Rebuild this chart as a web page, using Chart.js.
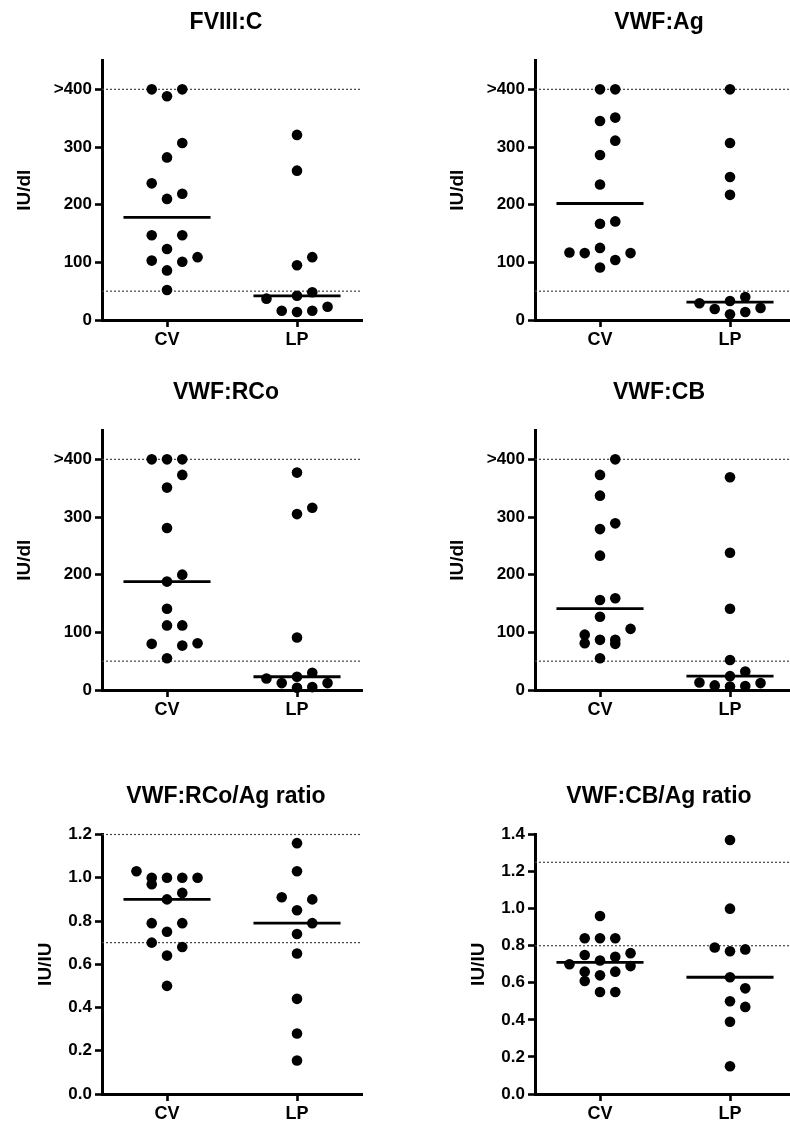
<!DOCTYPE html>
<html>
<head>
<meta charset="utf-8">
<script src="https://cdn.jsdelivr.net/npm/chart.js@4.4.1/dist/chart.umd.min.js"></script>
<style>
  html, body { margin: 0; padding: 0; background: #fff; overflow: hidden; width: 790px; height: 1121px; }
  .panel { position: absolute; width: 370px; height: 350px; }
</style>
</head>
<body>
<div class="panel" style="left:0;top:0"><canvas id="fviii" width="370" height="350"></canvas></div>
<div class="panel" style="left:433px;top:0"><canvas id="vwfag" width="370" height="350"></canvas></div>
<div class="panel" style="left:0;top:370px"><canvas id="vwfrco" width="370" height="350"></canvas></div>
<div class="panel" style="left:433px;top:370px"><canvas id="vwfcb" width="370" height="350"></canvas></div>
<div class="panel" style="left:0;top:774px"><canvas id="rcoratio" width="370" height="350"></canvas></div>
<div class="panel" style="left:433px;top:774px"><canvas id="cbratio" width="370" height="350"></canvas></div>
<script>
const categories = ['CV', 'LP'];

const levelTicks = [0, 100, 200, 300, 400];
const levelTickLabels = ['0', '100', '200', '300', '>400'];
const levelRefs = [50, 400];

const rcoRatioTicks = [0, 0.2, 0.4, 0.6, 0.8, 1.0, 1.2];
const rcoRatioTickLabels = ['0.0', '0.2', '0.4', '0.6', '0.8', '1.0', '1.2'];
const rcoRatioRefs = [0.7, 1.2];

const cbRatioTicks = [0, 0.2, 0.4, 0.6, 0.8, 1.0, 1.2, 1.4];
const cbRatioTickLabels = ['0.0', '0.2', '0.4', '0.6', '0.8', '1.0', '1.2', '1.4'];
const cbRatioRefs = [0.8, 1.25];

// values (>400 plotted at 400)
const fviiiCV = [400, 400, 388, 307, 282, 237, 219, 210, 147, 147, 123, 109, 103, 101, 86, 52];
const fviiiLP = [321, 259, 109, 95, 48, 42, 37, 23, 16, 16, 14];
const fviiiMedians = [178, 42];

const vwfAgCV = [400, 400, 351, 345, 311, 286, 235, 171, 167, 125, 117, 116, 116, 104, 91];
const vwfAgLP = [400, 307, 248, 217, 40, 33, 29, 21, 19, 14, 10];
const vwfAgMedians = [202, 31];

const vwfRCoCV = [400, 400, 400, 373, 351, 281, 200, 188, 141, 112, 112, 81, 80, 77, 55];
const vwfRCoLP = [377, 316, 305, 91, 30, 23, 20, 12, 12, 5, 4];
const vwfRCoMedians = [188, 23];

const vwfCBCV = [400, 373, 337, 289, 279, 233, 159, 156, 127, 106, 96, 87, 87, 81, 80, 55];
const vwfCBLP = [369, 238, 141, 52, 32, 24, 13, 12, 8, 7, 6];
const vwfCBMedians = [141, 24];

const rcoRatioCV = [1.03, 1.00, 1.00, 1.00, 1.00, 0.97, 0.93, 0.90, 0.79, 0.79, 0.75, 0.70, 0.68, 0.64, 0.50];
const rcoRatioLP = [1.16, 1.03, 0.91, 0.90, 0.85, 0.79, 0.74, 0.65, 0.44, 0.28, 0.155];
const rcoRatioMedians = [0.90, 0.79];

const cbRatioCV = [0.96, 0.84, 0.84, 0.84, 0.76, 0.75, 0.74, 0.72, 0.70, 0.69, 0.66, 0.66, 0.64, 0.61, 0.55, 0.55];
const cbRatioLP = [1.37, 1.00, 0.79, 0.78, 0.77, 0.63, 0.57, 0.50, 0.47, 0.39, 0.15];
const cbRatioMedians = [0.71, 0.63];

const FONT = '"Liberation Sans", Arial, sans-serif';
const PLOT_H = 259;   // plot height in px, used to spread the dots
const ROW_PX = 16;    // dots closer than this go in one row
const SLOT = 0.235;   // horizontal step between dots (x units)
const SLOT_ORDER = [0, 1, -1, 2, -2];

// simple prism-like column scatter: group close values in rows, spread each row sideways
function swarm(values, center, yMax) {
  const rowSpan = ROW_PX * yMax / PLOT_H;
  const sorted = [...values].sort((a, b) => a - b);
  const pts = [];
  let row = [];
  const flush = () => {
    row.forEach((v, i) => pts.push({ x: center + SLOT_ORDER[i] * SLOT, y: v }));
    row = [];
  };
  sorted.forEach(v => {
    if (row.length && (v - row[0] >= rowSpan || row.length === SLOT_ORDER.length)) flush();
    row.push(v);
  });
  flush();
  return pts;
}

const panelTitle = {
  id: 'panelTitle',
  afterDraw(chart, args, opts) {
    const ctx = chart.ctx;
    ctx.save();
    ctx.font = 'bold 23px ' + FONT;
    ctx.fillStyle = '#000';
    ctx.textAlign = 'center';
    ctx.textBaseline = 'alphabetic';
    ctx.fillText(opts.text, 226, 29);
    ctx.restore();
  }
};

function createPanel(p) {
  const datasets = [];
  p.refs.forEach(r => {
    datasets.push({
      data: [{ x: 0, y: r }, { x: 4, y: r }],
      showLine: true, borderColor: '#444', borderWidth: 1.2, borderDash: [2, 2],
      pointRadius: 0, order: 3, clip: false
    });
  });
  categories.forEach((c, i) => {
    const cx = 2 * i + 1;
    datasets.push({
      data: [{ x: cx - 0.67, y: p.medians[i] }, { x: cx + 0.67, y: p.medians[i] }],
      showLine: true, borderColor: '#000', borderWidth: 2.8,
      pointRadius: 0, order: 2, clip: false
    });
    datasets.push({
      label: c,
      data: swarm(p.groups[i], cx, p.yMax),
      pointRadius: 5.3, pointBackgroundColor: '#000', pointBorderWidth: 0,
      order: 1, clip: false
    });
  });

  new Chart(document.getElementById(p.id), {
    type: 'scatter',
    data: { datasets },
    plugins: [panelTitle],
    options: {
      responsive: false,
      animation: false,
      layout: { padding: { top: 60.5, right: 8, left: 0, bottom: 0 } },
      plugins: {
        legend: { display: false },
        tooltip: { enabled: false },
        panelTitle: { text: p.title }
      },
      scales: {
        x: {
          type: 'linear', min: 0, max: 4,
          afterBuildTicks: s => { s.ticks = categories.map((c, i) => ({ value: 2 * i + 1 })); },
          afterFit: s => { s.height = 30; },
          ticks: {
            callback: (v, i) => categories[i],
            color: '#000', padding: 2, autoSkip: false, maxRotation: 0,
            font: { family: FONT, size: 18, weight: 'bold' }
          },
          grid: { drawOnChartArea: false, tickLength: 7, tickWidth: 2.6, tickColor: '#000', color: '#000' },
          border: { color: '#000', width: 3 }
        },
        y: {
          min: 0, max: p.yMax,
          afterBuildTicks: s => { s.ticks = p.ticks.map(v => ({ value: v })); },
          afterFit: s => { s.width = 102; },
          ticks: {
            callback: (v, i) => p.tickLabels[i],
            color: '#000', padding: 3, autoSkip: false,
            font: { family: FONT, size: 17, weight: 'bold' }
          },
          title: {
            display: true, text: p.unit, color: '#000',
            font: { family: FONT, size: 19, weight: 'bold' },
            padding: { top: p.unitPad, bottom: 0 }
          },
          grid: { drawOnChartArea: false, tickLength: 7, tickWidth: 2.6, tickColor: '#000', color: '#000' },
          border: { color: '#000', width: 3 }
        }
      }
    }
  });
}

const panels = [
  { id: 'fviii', title: 'FVIII:C', unit: 'IU/dl', yMax: 450, ticks: levelTicks, tickLabels: levelTickLabels,
    refs: levelRefs, groups: [fviiiCV, fviiiLP], medians: fviiiMedians, unitPad: 13 },
  { id: 'vwfag', title: 'VWF:Ag', unit: 'IU/dl', yMax: 450, ticks: levelTicks, tickLabels: levelTickLabels,
    refs: levelRefs, groups: [vwfAgCV, vwfAgLP], medians: vwfAgMedians, unitPad: 13 },
  { id: 'vwfrco', title: 'VWF:RCo', unit: 'IU/dl', yMax: 450, ticks: levelTicks, tickLabels: levelTickLabels,
    refs: levelRefs, groups: [vwfRCoCV, vwfRCoLP], medians: vwfRCoMedians, unitPad: 13 },
  { id: 'vwfcb', title: 'VWF:CB', unit: 'IU/dl', yMax: 450, ticks: levelTicks, tickLabels: levelTickLabels,
    refs: levelRefs, groups: [vwfCBCV, vwfCBLP], medians: vwfCBMedians, unitPad: 13 },
  { id: 'rcoratio', title: 'VWF:RCo/Ag ratio', unit: 'IU/IU', yMax: 1.2, ticks: rcoRatioTicks, tickLabels: rcoRatioTickLabels,
    refs: rcoRatioRefs, groups: [rcoRatioCV, rcoRatioLP], medians: rcoRatioMedians, unitPad: 34 },
  { id: 'cbratio', title: 'VWF:CB/Ag ratio', unit: 'IU/IU', yMax: 1.4, ticks: cbRatioTicks, tickLabels: cbRatioTickLabels,
    refs: cbRatioRefs, groups: [cbRatioCV, cbRatioLP], medians: cbRatioMedians, unitPad: 34 }
];

panels.forEach(createPanel);
</script>
</body>
</html>
